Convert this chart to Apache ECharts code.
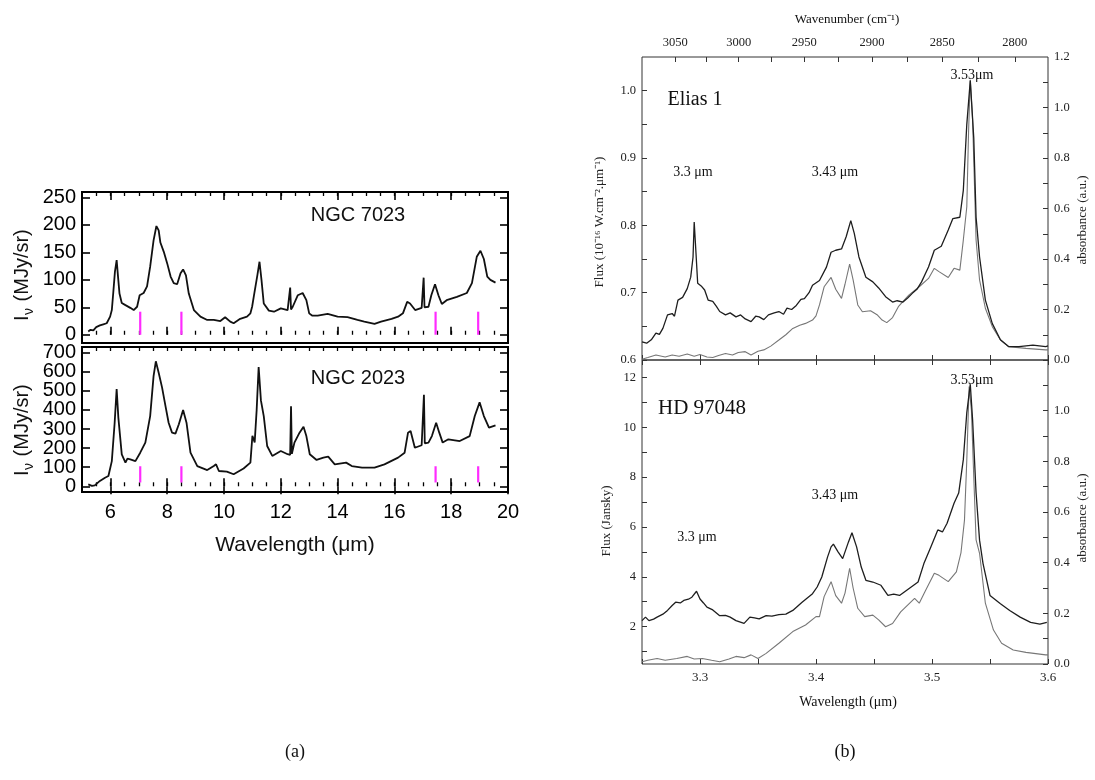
<!DOCTYPE html>
<html><head><meta charset="utf-8">
<script src="https://cdn.jsdelivr.net/npm/echarts@6/dist/echarts.min.js"></script>
<style>html,body{margin:0;padding:0;background:#fff}#c{width:1095px;height:780px}</style>
</head><body><div id="c"></div>
<script>
// ---------- Panel (a) data ----------
const ngc7023Wl = [5.22,5.30,5.40,5.50,5.63,5.75,5.87,5.99,6.05,6.10,6.16,6.22,6.27,6.32,6.40,6.53,6.70,6.82,6.94,7.03,7.17,7.29,7.40,7.52,7.62,7.70,7.76,7.88,8.00,8.12,8.23,8.35,8.47,8.56,8.66,8.76,8.94,9.17,9.41,9.64,9.87,10.04,10.22,10.34,10.57,10.81,10.93,10.99,11.05,11.10,11.18,11.25,11.32,11.40,11.58,11.76,12.00,12.24,12.30,12.33,12.36,12.42,12.60,12.77,12.90,13.00,13.10,13.30,13.65,14.00,14.35,14.70,14.94,15.30,15.53,15.90,16.13,16.30,16.45,16.55,16.73,16.96,17.00,17.03,17.06,17.20,17.30,17.43,17.55,17.67,17.84,18.20,18.55,18.73,18.90,19.03,19.15,19.27,19.38,19.45,19.56];
const ngc7023Iv = [6,9,8,14,17,19,21,33,45,76,115,136,105,75,58,54,49,45,51,72,76,88,124,172,198,190,168,151,130,106,94,92,112,119,108,75,45,33,27,27,25,32,24,21,29,33,39,51,70,68,110,133,100,57,44,42,48,45,45,86,46,51,72,76,63,39,35,35,38,33,32,27,24,20,24,29,33,39,60,57,45,49,50,104,50,51,72,92,72,56,63,69,76,94,142,153,138,106,100,97,95];
const ngc2023Wl = [5.22,5.35,5.45,5.63,5.81,5.93,6.05,6.15,6.22,6.28,6.40,6.53,6.60,6.70,6.88,7.05,7.23,7.40,7.52,7.60,7.70,7.82,7.94,8.05,8.17,8.29,8.41,8.56,8.68,8.82,9.06,9.41,9.64,9.72,9.82,10.10,10.34,10.69,10.93,11.00,11.08,11.15,11.22,11.30,11.40,11.52,11.70,12.00,12.24,12.33,12.36,12.39,12.48,12.66,12.80,12.90,13.02,13.26,13.50,13.67,13.90,14.30,14.50,14.86,15.30,15.65,16.13,16.36,16.48,16.57,16.72,16.96,17.01,17.04,17.07,17.20,17.32,17.47,17.58,17.70,17.90,18.30,18.65,18.83,19.00,19.15,19.33,19.56];
const ngc2023Iv = [10,2,5,28,45,54,132,333,510,360,167,124,145,141,132,176,229,368,577,655,595,517,420,333,281,276,325,400,333,176,106,85,106,115,80,77,63,93,124,265,230,400,625,450,368,211,159,185,168,165,420,170,229,281,312,263,168,138,150,155,115,124,106,98,98,115,150,176,281,290,202,215,220,480,225,229,263,333,281,229,246,237,263,368,440,368,307,319];
const markerWl = [7.05, 8.5, 17.45, 18.95];
const marker7023Range = [0, 42];
const marker2023Range = [20, 105];
const ngcXLabels = [6,8,10,12,14,16,18,20];
const ngc7023YLabels = [0,50,100,150,200,250];
const ngc2023YLabels = [0,100,200,300,400,500,600,700];

// ---------- Panel (b) data ----------
const eliasWl = [3.250,3.254,3.258,3.262,3.265,3.268,3.272,3.276,3.278,3.281,3.285,3.289,3.292,3.294,3.295,3.2965,3.298,3.301,3.304,3.307,3.311,3.314,3.317,3.322,3.326,3.331,3.335,3.339,3.344,3.348,3.351,3.355,3.359,3.364,3.368,3.372,3.375,3.379,3.383,3.387,3.390,3.394,3.397,3.403,3.409,3.413,3.417,3.422,3.426,3.430,3.433,3.437,3.443,3.449,3.454,3.460,3.466,3.470,3.475,3.479,3.483,3.487,3.491,3.497,3.502,3.508,3.514,3.518,3.524,3.527,3.530,3.533,3.536,3.538,3.541,3.546,3.552,3.559,3.566,3.575,3.587,3.598,3.600];
const eliasFlux = [0.627,0.625,0.630,0.640,0.638,0.647,0.667,0.669,0.665,0.689,0.693,0.706,0.723,0.753,0.805,0.760,0.714,0.710,0.704,0.689,0.687,0.680,0.672,0.667,0.670,0.664,0.667,0.661,0.657,0.665,0.664,0.660,0.667,0.670,0.672,0.668,0.677,0.675,0.681,0.690,0.691,0.700,0.711,0.718,0.738,0.760,0.763,0.765,0.783,0.807,0.788,0.753,0.723,0.716,0.707,0.694,0.686,0.688,0.686,0.692,0.699,0.705,0.716,0.738,0.763,0.769,0.793,0.810,0.812,0.852,0.950,1.015,0.930,0.812,0.753,0.689,0.654,0.630,0.620,0.620,0.622,0.620,0.621];
const eliasAbsWl = [3.250,3.255,3.262,3.270,3.276,3.282,3.289,3.295,3.300,3.306,3.311,3.316,3.322,3.328,3.333,3.339,3.344,3.350,3.355,3.361,3.368,3.374,3.380,3.386,3.391,3.397,3.400,3.403,3.407,3.413,3.417,3.422,3.425,3.429,3.432,3.436,3.440,3.447,3.453,3.457,3.461,3.466,3.471,3.480,3.489,3.497,3.502,3.506,3.514,3.519,3.524,3.527,3.530,3.5315,3.533,3.535,3.538,3.541,3.546,3.552,3.559,3.566,3.581,3.598,3.600];
const eliasAbs = [0.003,0.010,0.020,0.012,0.020,0.015,0.024,0.015,0.022,0.012,0.010,0.018,0.026,0.020,0.030,0.033,0.020,0.035,0.040,0.055,0.079,0.100,0.125,0.138,0.145,0.158,0.175,0.218,0.290,0.327,0.280,0.244,0.300,0.380,0.317,0.218,0.191,0.195,0.178,0.158,0.148,0.168,0.211,0.257,0.290,0.323,0.363,0.350,0.327,0.363,0.356,0.475,0.607,0.900,1.110,0.950,0.475,0.317,0.205,0.132,0.079,0.053,0.046,0.040,0.040];
const hdWl = [3.250,3.253,3.256,3.260,3.263,3.268,3.272,3.276,3.279,3.283,3.286,3.290,3.293,3.297,3.300,3.303,3.306,3.311,3.317,3.322,3.326,3.331,3.338,3.343,3.347,3.351,3.357,3.362,3.368,3.374,3.380,3.388,3.397,3.401,3.405,3.410,3.413,3.415,3.419,3.423,3.428,3.431,3.435,3.439,3.443,3.449,3.456,3.462,3.467,3.472,3.480,3.488,3.493,3.499,3.505,3.509,3.513,3.519,3.523,3.527,3.530,3.533,3.535,3.538,3.541,3.544,3.550,3.559,3.567,3.576,3.585,3.593,3.599];
const hdFlux = [2.24,2.38,2.24,2.30,2.38,2.50,2.65,2.85,2.98,2.95,3.05,3.10,3.18,3.42,3.11,2.95,2.78,2.67,2.44,2.45,2.38,2.24,2.13,2.38,2.35,2.31,2.44,2.42,2.48,2.50,2.65,2.98,3.32,3.59,3.99,4.80,5.20,5.31,5.00,4.73,5.40,5.77,5.20,4.39,3.86,3.79,3.66,3.25,3.30,3.25,3.52,3.79,4.53,5.20,5.88,5.80,6.15,6.95,7.36,8.70,10.59,11.73,10.30,7.37,5.47,4.53,3.25,2.92,2.65,2.38,2.17,2.10,2.17];
const hdAbsWl = [3.250,3.255,3.263,3.270,3.280,3.289,3.295,3.302,3.310,3.317,3.325,3.331,3.338,3.344,3.350,3.357,3.368,3.380,3.391,3.400,3.403,3.407,3.413,3.417,3.422,3.425,3.429,3.432,3.436,3.442,3.449,3.454,3.460,3.466,3.473,3.485,3.489,3.494,3.502,3.506,3.514,3.521,3.525,3.528,3.530,3.532,3.534,3.536,3.538,3.541,3.546,3.553,3.560,3.570,3.581,3.598,3.600];
const hdAbs = [0.009,0.015,0.022,0.015,0.022,0.030,0.020,0.022,0.015,0.009,0.020,0.030,0.025,0.036,0.022,0.042,0.082,0.128,0.154,0.187,0.187,0.266,0.325,0.270,0.240,0.280,0.378,0.300,0.220,0.187,0.193,0.174,0.147,0.160,0.206,0.259,0.240,0.286,0.358,0.350,0.325,0.364,0.440,0.568,0.805,1.095,1.000,0.740,0.490,0.437,0.240,0.134,0.082,0.055,0.046,0.036,0.036];
const wnLabels = [3050,3000,2950,2900,2850,2800];
const wnTicks = [3050,3025,3000,2975,2950,2925,2900,2875,2850,2825,2800];
const wlLabels = [3.3,3.4,3.5,3.6];
const wlTicks = [3.25,3.3,3.35,3.4,3.45,3.5,3.55,3.6];
const eliasFluxLabels = [0.6,0.7,0.8,0.9,1.0];
const eliasFluxTicks = [0.6,0.65,0.7,0.75,0.8,0.85,0.9,0.95,1.0];
const absLabelsTop = [0,0.2,0.4,0.6,0.8,1.0,1.2];
const absLabelsBottom = [0,0.2,0.4,0.6,0.8,1.0];
const absTicks = [0,0.1,0.2,0.3,0.4,0.5,0.6,0.7,0.8,0.9,1.0,1.1];
const hdFluxLabels = [2,4,6,8,10,12];
const hdFluxTicks = [1,2,3,4,5,6,7,8,9,10,11,12];

// ---------- helpers ----------
const pairs = (xs, ys) => xs.map((x, i) => [x, ys[i]]);
const minorNgc = [];
for (let v = 5.5; v < 20; v += 0.5) minorNgc.push(Math.round(v * 10) / 10);

const SANS = 'Liberation Sans';
const SERIF = 'Liberation Serif';

function ax(o) {
  return Object.assign({
    type: 'value', splitLine: { show: false }, axisLine: { show: false },
    axisLabel: { show: false }, axisTick: { show: false }
  }, o);
}
function tick(values, len, color, width) {
  return { show: true, inside: true, length: len, customValues: values, lineStyle: { color: color, width: width } };
}
function lab(values, family, size, color, margin, formatter) {
  const o = { show: true, customValues: values, fontFamily: family, fontSize: size, color: color, margin: margin,
    showMinLabel: true, showMaxLabel: true, hideOverlap: false };
  if (formatter) o.formatter = formatter;
  return o;
}

const xAxis = [];
const yAxis = [];
// Panel (a): grids 0 and 1
[0, 1].forEach(g => {
  xAxis.push(ax({ gridIndex: g, min: 5, max: 20, position: 'bottom',
    axisTick: tick(ngcXLabels, 8, '#000', 1.6),
    axisLabel: g === 1 ? lab(ngcXLabels, SANS, 20, '#000', 10) : { show: false } }));
  xAxis.push(ax({ gridIndex: g, min: 5, max: 20, position: 'bottom', axisTick: tick(minorNgc, 4, '#000', 1.3) }));
  xAxis.push(ax({ gridIndex: g, min: 5, max: 20, position: 'top', axisTick: tick(ngcXLabels, 8, '#000', 1.6) }));
  xAxis.push(ax({ gridIndex: g, min: 5, max: 20, position: 'top', axisTick: tick(minorNgc, 4, '#000', 1.3) }));
});
// Panel (b)
xAxis.push(ax({ gridIndex: 2, min: 3.25, max: 3.6, position: 'bottom', axisTick: tick(wlTicks, 5, '#333', 1) }));
xAxis.push(ax({ gridIndex: 2, min: 3.25, max: 3.6, position: 'top',
  axisTick: tick(wnTicks.map(w => 10000 / w), 5, '#333', 1),
  axisLabel: lab(wnLabels.map(w => 10000 / w), SERIF, 12.5, '#222', 8, v => String(Math.round(10000 / v))) }));
xAxis.push(ax({ gridIndex: 3, min: 3.25, max: 3.6, position: 'bottom',
  axisTick: tick(wlTicks, 5, '#333', 1),
  axisLabel: lab(wlLabels, SERIF, 13, '#222', 7, v => v.toFixed(1)) }));
xAxis.push(ax({ gridIndex: 3, min: 3.25, max: 3.6, position: 'top', axisTick: tick(wlTicks, 5, '#333', 1) }));

// y axes panel (a)
yAxis.push(ax({ gridIndex: 0, min: -15, max: 260, position: 'left', axisTick: tick(ngc7023YLabels, 8, '#000', 1.6),
  axisLabel: lab(ngc7023YLabels, SANS, 20, '#000', 6) }));
yAxis.push(ax({ gridIndex: 0, min: -15, max: 260, position: 'right', axisTick: tick(ngc7023YLabels, 8, '#000', 1.6) }));
// NGC 2023 labels are dense: split into two overlapping axes (even / odd hundreds) so none get hidden
yAxis.push(ax({ gridIndex: 1, min: -30, max: 730, position: 'left', axisTick: tick(ngc2023YLabels, 8, '#000', 1.6),
  axisLabel: lab(ngc2023YLabels.filter((v, i) => i % 2 === 0), SANS, 20, '#000', 6) }));
yAxis.push(ax({ gridIndex: 1, min: -30, max: 730, position: 'right', axisTick: tick(ngc2023YLabels, 8, '#000', 1.6) }));
// y axes panel (b)
yAxis.push(ax({ gridIndex: 2, min: 0.6, max: 1.05, position: 'left', axisTick: tick(eliasFluxTicks, 5, '#333', 1),
  axisLabel: lab(eliasFluxLabels, SERIF, 12.5, '#222', 6, v => v.toFixed(1)) }));
yAxis.push(ax({ gridIndex: 2, min: 0, max: 1.2, position: 'right', axisTick: tick(absTicks, 5, '#333', 1),
  axisLabel: lab(absLabelsTop, SERIF, 12.5, '#222', 6, v => v.toFixed(1)) }));
yAxis.push(ax({ gridIndex: 3, min: 0.5, max: 12.7, position: 'left', axisTick: tick(hdFluxTicks, 5, '#333', 1),
  axisLabel: lab(hdFluxLabels, SERIF, 12.5, '#222', 6) }));
yAxis.push(ax({ gridIndex: 3, min: 0, max: 1.2, position: 'right', axisTick: tick(absTicks, 5, '#333', 1),
  axisLabel: lab(absLabelsBottom, SERIF, 12.5, '#222', 6, v => v.toFixed(1)) }));
// index 8: odd hundreds for NGC 2023
yAxis.push(ax({ gridIndex: 1, min: -30, max: 730, position: 'left',
  axisLabel: lab(ngc2023YLabels.filter((v, i) => i % 2 === 1), SANS, 20, '#000', 6) }));

function lineSeries(data, xi, yi, color, width) {
  return { type: 'line', data: data, xAxisIndex: xi, yAxisIndex: yi, showSymbol: false, symbol: 'none',
    lineStyle: { color: color, width: width }, animation: false, silent: true, z: 3 };
}
const series = [
  lineSeries(pairs(ngc7023Wl, ngc7023Iv), 0, 0, '#111', 1.8),
  lineSeries(pairs(ngc2023Wl, ngc2023Iv), 4, 2, '#111', 1.8),
  lineSeries(pairs(eliasAbsWl, eliasAbs), 8, 5, '#777', 1.1),
  lineSeries(pairs(eliasWl, eliasFlux), 8, 4, '#1e1e1e', 1.3),
  lineSeries(pairs(hdAbsWl, hdAbs), 10, 7, '#777', 1.1),
  lineSeries(pairs(hdWl, hdFlux), 10, 6, '#1e1e1e', 1.3)
];
markerWl.forEach(w => {
  series.push(lineSeries([[w, marker7023Range[0]], [w, marker7023Range[1]]], 0, 0, '#ff2bff', 2.2));
  series.push(lineSeries([[w, marker2023Range[0]], [w, marker2023Range[1]]], 4, 2, '#ff2bff', 2.2));
});

function txt(text, x, y, font) {
  return { type: 'text', x: x, y: y, silent: true,
    style: { text: text, font: font, fill: '#111', textAlign: 'center', textVerticalAlign: 'middle' } };
}
function rtxt(text, x, y, font) {
  return { type: 'text', x: x, y: y, rotation: Math.PI / 2, silent: true,
    style: { text: text, font: font, fill: '#222', textAlign: 'center', textVerticalAlign: 'middle' } };
}
function ivLabel(x, y) {
  return { type: 'group', x: x, y: y, rotation: Math.PI / 2, silent: true, children: [
    { type: 'text', x: -46, y: 0, style: { text: 'I', font: '20px ' + SANS, fill: '#111', textAlign: 'left', textVerticalAlign: 'middle' } },
    { type: 'text', x: -40, y: 7, style: { text: 'ν', font: '14px ' + SANS, fill: '#111', textAlign: 'left', textVerticalAlign: 'middle' } },
    { type: 'text', x: -32, y: 0, style: { text: ' (MJy/sr)', font: '20px ' + SANS, fill: '#111', textAlign: 'left', textVerticalAlign: 'middle' } }
  ] };
}

const graphic = [
  txt('NGC 7023', 358, 215, '20px ' + SANS),
  txt('NGC 2023', 358, 378, '20px ' + SANS),
  ivLabel(22, 275),
  ivLabel(22, 430),
  txt('Wavelength (μm)', 295, 545, '21px ' + SANS),
  txt('(a)', 295, 752, '18px ' + SERIF),
  txt('Wavenumber (cm⁻¹)', 847, 20, '13px ' + SERIF),
  txt('Elias 1', 695, 100, '20px ' + SERIF),
  txt('3.3 μm', 693, 172, '14px ' + SERIF),
  txt('3.43 μm', 835, 172, '14px ' + SERIF),
  txt('3.53μm', 972, 75, '14px ' + SERIF),
  txt('HD 97048', 702, 408, '21px ' + SERIF),
  txt('3.3 μm', 697, 537, '14px ' + SERIF),
  txt('3.43 μm', 835, 495, '14px ' + SERIF),
  txt('3.53μm', 972, 380, '14px ' + SERIF),
  rtxt('Flux (10⁻¹⁶ W.cm⁻².μm⁻¹)', 600, 222, '13px ' + SERIF),
  rtxt('absorbance (a.u.)', 1083, 220, '13px ' + SERIF),
  rtxt('Flux (Jansky)', 607, 521, '13px ' + SERIF),
  rtxt('absorbance (a.u.)', 1083, 518, '13px ' + SERIF),
  txt('Wavelength (μm)', 848, 702, '14px ' + SERIF),
  txt('(b)', 845, 752, '18px ' + SERIF)
];

const chart = echarts.init(document.getElementById('c'), null, { renderer: 'canvas' });
chart.setOption({
  backgroundColor: '#fff',
  animation: false,
  grid: [
    { left: 82, top: 192, width: 426, height: 151, show: true, borderColor: '#000', borderWidth: 2, backgroundColor: 'transparent' },
    { left: 82, top: 347, width: 426, height: 145, show: true, borderColor: '#000', borderWidth: 2, backgroundColor: 'transparent' },
    { left: 642, top: 57, width: 406, height: 303, show: true, borderColor: '#333', borderWidth: 1, backgroundColor: 'transparent' },
    { left: 642, top: 360, width: 406, height: 304, show: true, borderColor: '#333', borderWidth: 1, backgroundColor: 'transparent' }
  ],
  xAxis: xAxis,
  yAxis: yAxis,
  series: series,
  graphic: graphic
});
</script>
</body></html>
